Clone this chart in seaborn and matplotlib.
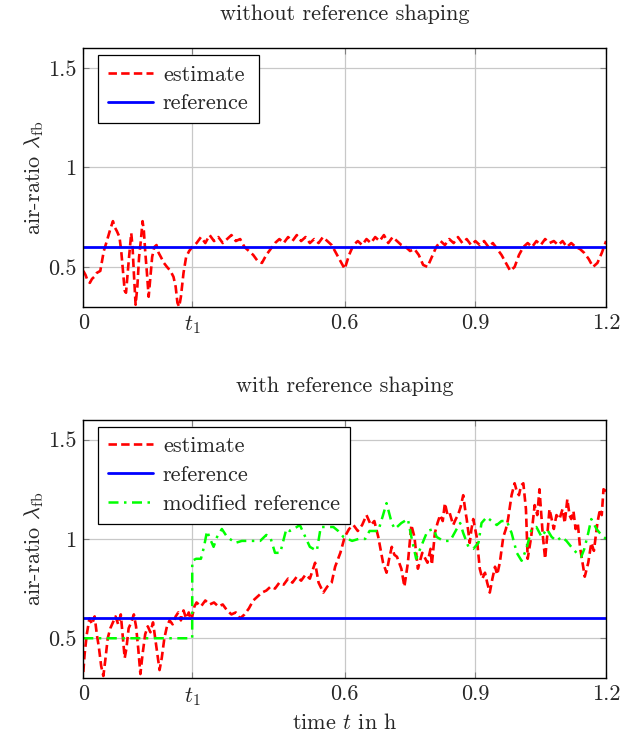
import matplotlib
matplotlib.use("Agg")
import matplotlib.pyplot as plt
import seaborn as sns

# --- datos ---
# horizonte de tiempo en h
t1 = 0.25
t_ref = [0.0, 1.2]
ref = [0.6, 0.6]

# estimación sin reference shaping
t_top = [0.000, 0.005, 0.010, 0.015, 0.020, 0.025, 0.031, 0.039, 0.043, 0.047,
         0.054, 0.062, 0.068, 0.072, 0.077, 0.083, 0.087, 0.091, 0.095, 0.098,
         0.101, 0.105, 0.110, 0.113, 0.116, 0.120, 0.124, 0.128, 0.132, 0.136,
         0.139, 0.142, 0.146, 0.150, 0.154, 0.158, 0.163, 0.168, 0.173, 0.178,
         0.185, 0.192, 0.200, 0.207, 0.212, 0.216, 0.220, 0.224, 0.230, 0.236,
         0.243, 0.250,
         0.26, 0.27, 0.28, 0.29, 0.30, 0.31, 0.32, 0.33, 0.34, 0.35, 0.36, 0.37,
         0.38, 0.39, 0.40, 0.41, 0.42, 0.43, 0.44, 0.45, 0.46, 0.47, 0.48, 0.49,
         0.50, 0.51, 0.52, 0.53, 0.54, 0.55, 0.56, 0.57, 0.58, 0.59, 0.60, 0.61,
         0.62, 0.63, 0.64, 0.65, 0.66, 0.67, 0.68, 0.69, 0.70, 0.71, 0.72, 0.73,
         0.74, 0.75, 0.76, 0.77, 0.78, 0.79, 0.80, 0.81, 0.82, 0.83, 0.84, 0.85,
         0.86, 0.87, 0.88, 0.89, 0.90, 0.91, 0.92, 0.93, 0.94, 0.95, 0.96, 0.97,
         0.98, 0.99, 1.00, 1.01, 1.02, 1.03, 1.04, 1.05, 1.06, 1.07, 1.08, 1.09,
         1.10, 1.11, 1.12, 1.13, 1.14, 1.15, 1.16, 1.17, 1.18, 1.19, 1.20]
est_top = [0.48, 0.46, 0.43, 0.42, 0.44, 0.45, 0.47, 0.48, 0.53, 0.58,
           0.63, 0.69, 0.73, 0.70, 0.68, 0.65, 0.58, 0.48, 0.38, 0.37,
           0.45, 0.55, 0.67, 0.60, 0.47, 0.31, 0.40, 0.55, 0.63, 0.73,
           0.68, 0.58, 0.47, 0.35, 0.45, 0.55, 0.60, 0.61, 0.57, 0.55,
           0.52, 0.50, 0.48, 0.45, 0.40, 0.32, 0.30, 0.35, 0.47, 0.55,
           0.58, 0.60,
           0.62, 0.65, 0.62, 0.66, 0.63, 0.65, 0.62, 0.64, 0.66, 0.63, 0.64, 0.60,
           0.58, 0.56, 0.53, 0.52, 0.56, 0.59, 0.62, 0.64, 0.62, 0.65, 0.63, 0.66,
           0.63, 0.65, 0.62, 0.64, 0.62, 0.65, 0.63, 0.61, 0.57, 0.53, 0.49, 0.56,
           0.61, 0.63, 0.61, 0.64, 0.62, 0.65, 0.63, 0.66, 0.62, 0.65, 0.63, 0.61,
           0.60, 0.58, 0.59, 0.56, 0.51, 0.50, 0.55, 0.60, 0.63, 0.61, 0.64, 0.62,
           0.65, 0.62, 0.64, 0.61, 0.63, 0.61, 0.63, 0.60, 0.62, 0.59, 0.56, 0.52,
           0.48, 0.50, 0.56, 0.60, 0.62, 0.60, 0.63, 0.61, 0.64, 0.62, 0.63, 0.61,
           0.63, 0.60, 0.62, 0.60, 0.59, 0.57, 0.54, 0.50, 0.52, 0.57, 0.63]

# estimación con reference shaping
t_bot = [0.000, 0.003, 0.008, 0.014, 0.020, 0.026, 0.031, 0.036, 0.041, 0.046,
         0.051, 0.056, 0.062, 0.068, 0.074, 0.080, 0.086, 0.091, 0.095, 0.099,
         0.104, 0.110, 0.116, 0.121, 0.126, 0.131, 0.136, 0.142, 0.148, 0.154,
         0.160, 0.165, 0.170, 0.175, 0.180, 0.186, 0.192, 0.198, 0.205, 0.212,
         0.218, 0.224, 0.230, 0.236, 0.242, 0.248,
         0.255, 0.26, 0.27, 0.28, 0.29, 0.30, 0.31, 0.32, 0.33, 0.34, 0.35, 0.36,
         0.37, 0.38, 0.39, 0.40, 0.41, 0.42, 0.43, 0.44, 0.45, 0.46, 0.47, 0.48,
         0.49, 0.50, 0.51, 0.52, 0.532, 0.54, 0.551, 0.56, 0.57, 0.578, 0.59,
         0.60, 0.61, 0.62, 0.63, 0.64, 0.65, 0.66, 0.668, 0.677, 0.688, 0.696,
         0.702, 0.708, 0.714, 0.72, 0.73, 0.737, 0.745, 0.753, 0.76, 0.768,
         0.778, 0.79, 0.797, 0.80,
         0.807, 0.813, 0.819, 0.825, 0.83, 0.836, 0.841, 0.849, 0.855, 0.86,
         0.866, 0.872, 0.877, 0.88, 0.887, 0.891, 0.895, 0.903, 0.91, 0.916,
         0.922, 0.927, 0.933, 0.939, 0.945, 0.950, 0.956, 0.964, 0.970, 0.975,
         0.983, 0.99, 0.995, 1.0, 1.005, 1.01, 1.016, 1.02, 1.028, 1.036,
         1.042, 1.047, 1.055, 1.06, 1.065, 1.07, 1.075, 1.08, 1.086, 1.093,
         1.1, 1.105, 1.111, 1.116, 1.12, 1.125, 1.13, 1.135, 1.14, 1.146,
         1.151, 1.159, 1.166, 1.172, 1.18, 1.186, 1.19, 1.194, 1.2]
est_bot = [0.33, 0.42, 0.52, 0.60, 0.57, 0.61, 0.52, 0.45, 0.36, 0.31,
           0.40, 0.50, 0.55, 0.58, 0.61, 0.57, 0.62, 0.50, 0.40, 0.45,
           0.55, 0.58, 0.62, 0.56, 0.45, 0.32, 0.42, 0.52, 0.56, 0.53,
           0.58, 0.50, 0.42, 0.34, 0.40, 0.50, 0.56, 0.59, 0.57, 0.61,
           0.63, 0.59, 0.64, 0.60, 0.63, 0.59,
           0.66, 0.68, 0.66, 0.69, 0.67, 0.68, 0.66, 0.67, 0.64, 0.62, 0.63, 0.60,
           0.62, 0.65, 0.69, 0.71, 0.73, 0.74, 0.76, 0.75, 0.78, 0.77, 0.80, 0.78,
           0.81, 0.79, 0.82, 0.80, 0.88, 0.78, 0.73, 0.76, 0.78, 0.86, 0.93,
           1.01, 1.05, 1.07, 1.04, 1.07, 1.12, 1.07, 1.09, 1.01, 0.88, 0.83,
           0.90, 0.96, 0.92, 0.91, 0.85, 0.76, 0.88, 1.07, 1.01, 0.85,
           0.93, 0.88, 0.95, 0.87,
           1.03, 1.08, 1.12, 1.09, 1.18, 1.12, 1.13, 1.07, 1.10, 1.12,
           1.16, 1.22, 1.14, 1.10, 0.98, 1.05, 1.10, 1.01, 0.85, 0.80,
           0.83, 0.78, 0.73, 0.80, 0.86, 0.82, 0.88, 1.01, 1.05, 1.10,
           1.22, 1.28, 1.24, 1.22, 1.27, 1.28, 1.15, 0.90, 1.01, 1.17,
           1.12, 1.25, 1.01, 0.90, 1.02, 1.15, 1.10, 1.05, 1.12, 1.10,
           1.15, 1.08, 1.20, 1.12, 1.10, 1.14, 1.05, 1.08, 0.96, 0.88,
           0.81, 0.88, 0.98, 0.94, 1.08, 1.15, 1.12, 1.25, 1.24]

# referencia modificada
t_mod = [0.0, 0.2499, 0.25, 0.259, 0.27, 0.277, 0.284, 0.291, 0.299, 0.307,
         0.318, 0.33, 0.349, 0.364, 0.385, 0.406, 0.42, 0.429, 0.44, 0.452,
         0.466, 0.474, 0.49, 0.497, 0.52, 0.536, 0.545, 0.56, 0.574, 0.585,
         0.597, 0.617, 0.632, 0.647, 0.657, 0.677, 0.688, 0.696, 0.708, 0.715,
         0.73, 0.745, 0.753, 0.764, 0.775, 0.79, 0.804, 0.811, 0.826, 0.842,
         0.857, 0.865, 0.872, 0.884, 0.895, 0.907, 0.914, 0.926, 0.937, 0.949,
         0.96, 0.972, 0.983, 0.995, 1.006, 1.017, 1.029, 1.04, 1.052, 1.064,
         1.075, 1.086, 1.098, 1.109, 1.12, 1.132, 1.143, 1.15, 1.159, 1.166,
         1.178, 1.189, 1.2]
mod_ref = [0.5, 0.5, 0.89, 0.90, 0.90, 0.96, 1.04, 1.00, 0.96, 1.01,
           1.05, 1.01, 0.98, 0.99, 0.99, 0.99, 1.02, 1.01, 0.93, 0.93,
           1.05, 1.04, 1.06, 1.07, 0.96, 0.94, 1.06, 1.06, 1.06, 1.04,
           1.01, 0.99, 1.00, 1.00, 1.04, 1.04, 1.12, 1.18, 1.08, 1.05,
           1.08, 1.10, 1.01, 0.90, 0.96, 1.04, 1.05, 1.01, 0.99, 0.99,
           1.05, 1.08, 1.03, 0.96, 0.95, 0.98, 1.08, 1.11, 1.09, 1.07,
           1.09, 1.09, 1.03, 0.93, 0.89, 0.95, 1.05, 1.06, 1.01, 1.05,
           1.01, 0.99, 1.01, 0.99, 0.96, 0.93, 0.91, 0.95, 1.03, 1.10,
           1.05, 1.02, 1.00]

xticks = [0, t1, 0.6, 0.9, 1.2]
xticklabels = ["0", "$t_1$", "0.6", "0.9", "1.2"]
yticks = [0.5, 1.0, 1.5]
yticklabels = ["0.5", "1", "1.5"]

# --- estilo ---
sns.set_theme(style="ticks")
plt.rcParams["font.family"] = ["cmr10", "DejaVu Serif"]
plt.rcParams["mathtext.fontset"] = "cm"
plt.rcParams["axes.unicode_minus"] = False
plt.rcParams["axes.formatter.use_mathtext"] = True

fs = 16

fig = plt.figure(figsize=(6.36, 7.38), dpi=100)
ax1 = fig.add_axes([0.131, 0.5844, 0.822, 0.3505])
ax2 = fig.add_axes([0.131, 0.0813, 0.822, 0.3500])

estilo_est = dict(color="#ff0000", linewidth=1.9, linestyle=(0, (3.2, 1.6)), sort=False)
estilo_ref = dict(color="#0000ff", linewidth=2.0)

sns.lineplot(x=t_top, y=est_top, ax=ax1, label="estimate", **estilo_est)
sns.lineplot(x=t_ref, y=ref, ax=ax1, label="reference", **estilo_ref)

sns.lineplot(x=t_bot, y=est_bot, ax=ax2, label="estimate", **estilo_est)
sns.lineplot(x=t_ref, y=ref, ax=ax2, label="reference", **estilo_ref)
sns.lineplot(x=t_mod, y=mod_ref, ax=ax2, color="#00ff00", linewidth=1.8,
             linestyle=(0, (4, 2.2, 1, 2.2)), label="modified reference", sort=False)

for ax, titulo in [(ax1, "without reference shaping"), (ax2, "with reference shaping")]:
    ax.set_xlim(0, 1.2)
    ax.set_ylim(0.3, 1.6)
    ax.set_xticks(xticks)
    ax.set_xticklabels(xticklabels)
    ax.set_yticks(yticks)
    ax.set_yticklabels(yticklabels)
    ax.grid(True, color="#c8c8c8", linewidth=0.9)
    ax.set_axisbelow(True)
    ax.tick_params(direction="in", length=4, width=0.8, color="#808080",
                   top=True, right=True, labelsize=fs, pad=5)
    for s in ax.spines.values():
        s.set_color("black")
        s.set_linewidth(1.0)
    ax.set_title(titulo, fontsize=fs, pad=20)
    ax.set_ylabel(r"air-ratio $\lambda_{\mathrm{fb}}$", fontsize=fs, labelpad=1)
    leg = ax.legend(loc="upper left", bbox_to_anchor=(0.029, 0.973),
                    borderaxespad=0, fontsize=fs, frameon=True, fancybox=False,
                    framealpha=1, edgecolor="black", handlelength=2.0,
                    labelspacing=0.42, borderpad=0.45, handletextpad=0.45)
    leg.get_frame().set_linewidth(0.9)

ax1.set_xlabel("")
ax2.set_xlabel("time $t$ in h", fontsize=fs, labelpad=4)

fig.savefig("out.png", dpi=100)
